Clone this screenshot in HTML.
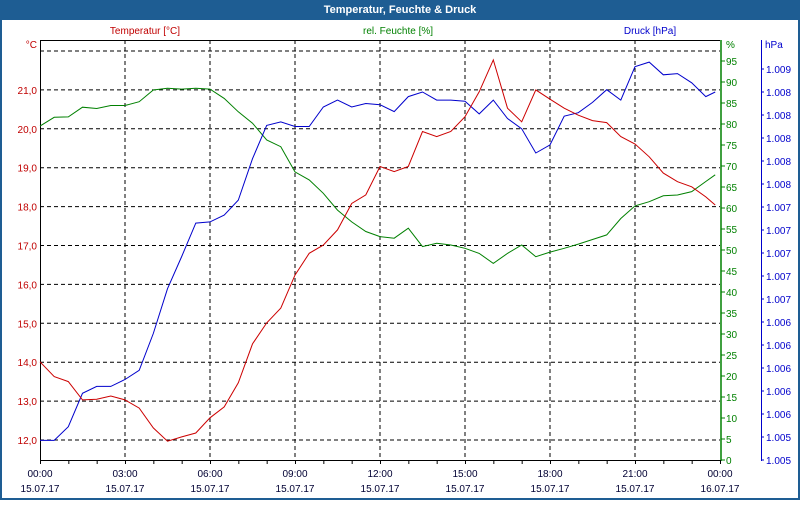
<!DOCTYPE html>
<html><head><meta charset="utf-8"><style>
html,body{margin:0;padding:0;background:#fff;}
body{width:800px;height:500px;overflow:hidden;font-family:"Liberation Sans",Tahoma,sans-serif;}
svg text{font-family:"Liberation Sans",sans-serif;font-size:10px;}
</style></head><body>
<svg id="chart" width="800" height="500" viewBox="0 0 800 500" xmlns="http://www.w3.org/2000/svg">
<rect x="1" y="1" width="798" height="498" fill="#fff" stroke="#1e5d93" stroke-width="2"/>
<rect x="0" y="0" width="800" height="20" fill="#1e5d93"/>
<text x="400" y="13" text-anchor="middle" fill="#fff" font-weight="bold" style="font-size:11px">Temperatur, Feuchte &amp; Druck</text>
<text x="145" y="34" text-anchor="middle" fill="#c00000">Temperatur [°C]</text>
<text x="398" y="34" text-anchor="middle" fill="#008000">rel. Feuchte [%]</text>
<text x="650" y="34" text-anchor="middle" fill="#0000cc">Druck [hPa]</text>
<text x="37" y="48" text-anchor="end" fill="#c00000">°C</text>
<text x="726" y="48" fill="#008000">%</text>
<text x="765" y="48" fill="#0000cc">hPa</text>
<g id="grid"></g><g id="axes"></g><g id="series"></g>
</svg>
<script>
const hours=[0,0.5,1,1.5,2,2.5,3,3.5,4,4.5,5,5.5,6,6.5,7,7.5,8,8.5,9,9.5,10,10.5,11,11.5,12,12.5,13,13.5,14,14.5,15,15.5,16,16.5,17,17.5,18,18.5,19,19.5,20,20.5,21,21.5,22,22.5,23,23.5,23.83];
const temperature=[14.01,13.63,13.50,13.03,13.05,13.13,13.03,12.82,12.31,11.97,12.08,12.18,12.57,12.85,13.47,14.47,15.01,15.39,16.24,16.80,17.01,17.40,18.08,18.30,19.03,18.90,19.03,19.93,19.80,19.93,20.31,20.95,21.77,20.53,20.18,21.0,20.76,20.53,20.35,20.21,20.16,19.80,19.61,19.28,18.86,18.64,18.51,18.25,18.04];
const humidity=[79.5,81.6,81.7,84.0,83.7,84.4,84.4,85.3,88.1,88.5,88.3,88.5,88.3,86.1,82.9,80.2,76.2,74.6,68.6,66.7,63.5,59.5,56.7,54.4,53.2,52.8,55.2,50.8,51.6,51.2,50.4,49.2,46.8,49.2,51.2,48.4,49.5,50.4,51.4,52.5,53.6,57.5,60.5,61.5,62.9,63.1,63.9,66.3,67.9];
const pressure=[1.00537,1.00537,1.00549,1.00578,1.00584,1.00584,1.00590,1.00598,1.00630,1.00669,1.00697,1.00726,1.00727,1.00733,1.00746,1.00782,1.00811,1.00814,1.00810,1.00810,1.00827,1.00833,1.00827,1.00830,1.00829,1.00823,1.00836,1.00840,1.00833,1.00833,1.00832,1.00821,1.00833,1.00817,1.00808,1.00787,1.00794,1.00819,1.00822,1.00831,1.00842,1.00833,1.00862,1.00866,1.00855,1.00856,1.00848,1.00836,1.00840];
const tempTicks=[12,13,14,15,16,17,18,19,20,21];
const humTicks=[0,5,10,15,20,25,30,35,40,45,50,55,60,65,70,75,80,85,90,95];
const presTickLabels=["1.005","1.005","1.006","1.006","1.006","1.006","1.006","1.007","1.007","1.007","1.007","1.007","1.008","1.008","1.008","1.008","1.008","1.009"];
const timeLabels=["00:00","03:00","06:00","09:00","12:00","15:00","18:00","21:00","00:00"];
const dateLabels=["15.07.17","15.07.17","15.07.17","15.07.17","15.07.17","15.07.17","15.07.17","15.07.17","16.07.17"];

const L=40,R=720,T=40,B=460;
const xS=h=>L+h/24*(R-L);
const yT=v=>440-(v-12)*38.9;
const yH=v=>460-v*4.2;
const presBase=1.0052,presStep=0.0002,presPx=23;
const yP=v=>460-(v-presBase)/presStep*presPx;
const NS="http://www.w3.org/2000/svg";
function mk(tag,attrs,parent,txt){const e=document.createElementNS(NS,tag);for(const k in attrs)e.setAttribute(k,attrs[k]);if(txt!==undefined)e.textContent=txt;parent.appendChild(e);return e;}
const grid=document.getElementById('grid'),axes=document.getElementById('axes'),ser=document.getElementById('series');

for(let v=12;v<=22;v++){const y=yT(v);
 const g=mk('line',{x1:L,x2:R,y1:y,y2:y,stroke:'#000','stroke-dasharray':'4,3'},grid);
 
 }
for(let i=1;i<8;i++){const x=xS(i*3);
 const g=mk('line',{x1:x,x2:x,y1:T,y2:B,stroke:'#000','stroke-dasharray':'4,3'},grid);
 
 }

let e=mk('line',{x1:L,x2:R,y1:T+0.5,y2:T+0.5,stroke:'#000'},axes);


e=mk('line',{x1:L+0.5,x2:L+0.5,y1:T,y2:B,stroke:'#000'},axes);


e=mk('line',{x1:L,x2:R,y1:B+0.5,y2:B+0.5,stroke:'#000'},axes);


e=mk('line',{x1:721,x2:721,y1:T,y2:B+1,stroke:'#008000','stroke-width':1.5},axes);


e=mk('line',{x1:761.5,x2:761.5,y1:T,y2:B+1,stroke:'#0000cc'},axes);



tempTicks.forEach(v=>{const t=mk('text',{x:37,y:yT(v)+4,'text-anchor':'end',fill:'#c00000'},axes,v.toFixed(1).replace('.',','));
 
 });
humTicks.forEach(v=>{const y=yH(v);
 const k=mk('line',{x1:721,x2:725,y1:y,y2:y,stroke:'#008000'},axes);
 
 
 const t=mk('text',{x:726,y:y+4,fill:'#008000'},axes,String(v));
 
 });
presTickLabels.forEach((s,i)=>{const y=460-i*presPx;
 const k=mk('line',{x1:761,x2:764,y1:y,y2:y,stroke:'#0000cc'},axes);
 
 
 const t=mk('text',{x:766,y:y+4,fill:'#0000cc'},axes,s);
 
 });
for(let h=0;h<=24;h++){const x=xS(h)+0.5;
 const k=mk('line',{x1:x,x2:x,y1:B,y2:B+4,stroke:'#000'},axes);
 
 }
timeLabels.forEach((s,i)=>{const x=xS(i*3);
 const t=mk('text',{x:x,y:477,'text-anchor':'middle',fill:'#000033'},axes,s);
 
 
 const d=mk('text',{x:x,y:492,'text-anchor':'middle',fill:'#000033'},axes,dateLabels[i]);
 
 });

function line(vals,yf,color,name){const pts=vals.map((v,i)=>xS(hours[i]).toFixed(1)+','+yf(v).toFixed(1)).join(' ');
 const p=mk('polyline',{points:pts,fill:'none',stroke:color,'stroke-width':1},ser);
 
 }
line(humidity,yH,'#008000','humidity-line');
line(pressure,yP,'#0000cc','pressure-line');
line(temperature,yT,'#cc0000','temperature-line');
</script>
</body></html>
